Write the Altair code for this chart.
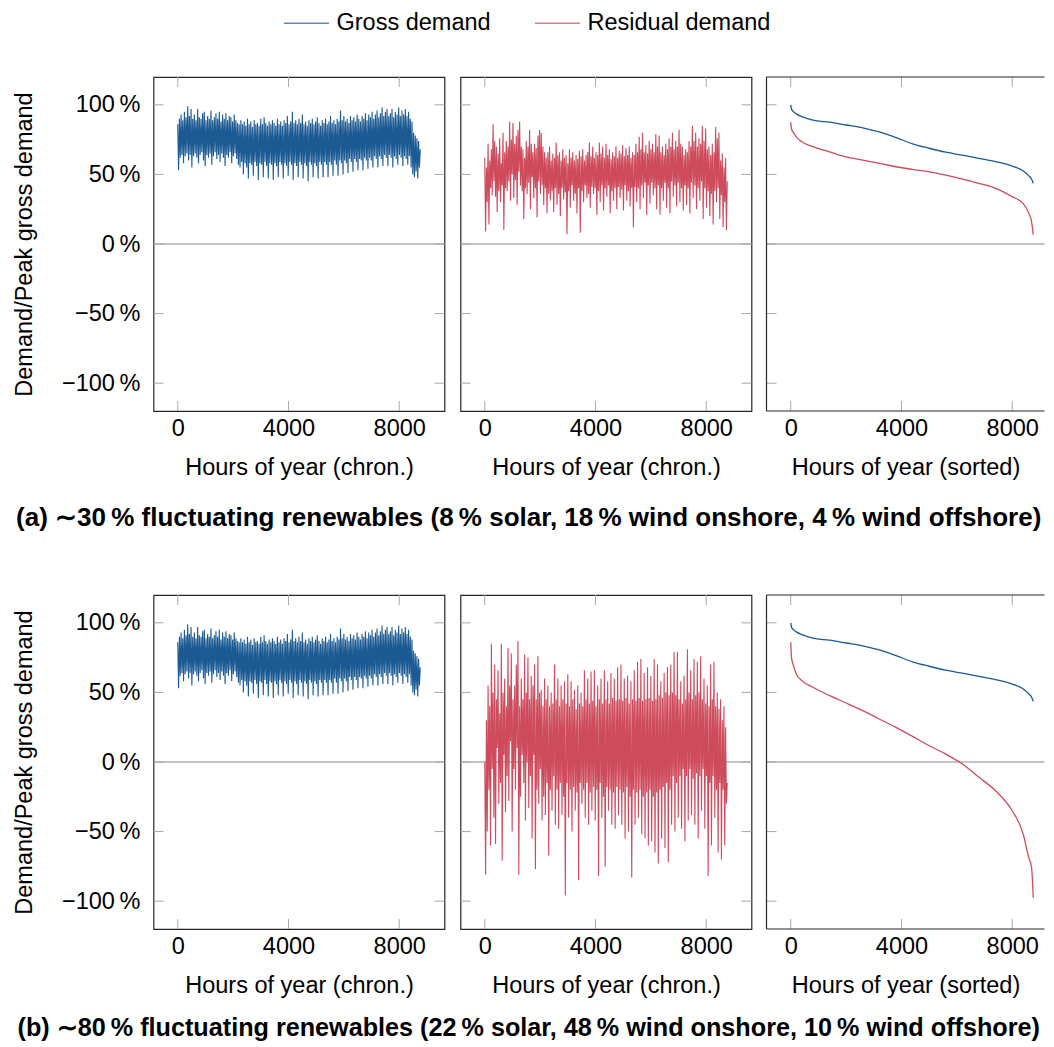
import altair as alt
import pandas as pd

# ---------------- data ----------------
# chronological series: alternating highs and lows read across the year (0 .. 8760 h)
gross_chrono = [
    0.86, 0.53, 0.90, 0.62, 0.93, 0.64, 0.89, 0.58, 0.95, 0.63, 0.91, 0.65, 0.99, 0.60, 0.92, 0.64,
    0.97, 0.55, 0.90, 0.63, 0.93, 0.65, 0.89, 0.62, 0.97, 0.58, 0.91, 0.64, 0.90, 0.66, 0.94, 0.60,
    0.95, 0.56, 0.89, 0.64, 0.92, 0.62, 0.90, 0.65, 0.96, 0.57, 0.89, 0.63, 0.91, 0.66, 0.94, 0.61,
    0.90, 0.64, 0.95, 0.59, 0.88, 0.65, 0.93, 0.62, 0.90, 0.56, 0.94, 0.64, 0.89, 0.62, 0.92, 0.66,
    0.91, 0.58, 0.88, 0.63, 0.93, 0.65, 0.89, 0.61, 0.87, 0.57, 0.86, 0.55, 0.89, 0.59, 0.86, 0.50,
    0.88, 0.58, 0.85, 0.55, 0.90, 0.47, 0.86, 0.58, 0.88, 0.57, 0.84, 0.49, 0.89, 0.59, 0.86, 0.56,
    0.87, 0.46, 0.85, 0.58, 0.90, 0.57, 0.86, 0.48, 0.91, 0.59, 0.87, 0.56, 0.85, 0.47, 0.88, 0.58,
    0.86, 0.57, 0.89, 0.46, 0.87, 0.58, 0.85, 0.56, 0.90, 0.48, 0.86, 0.59, 0.88, 0.57, 0.85, 0.47,
    0.89, 0.58, 0.87, 0.56, 0.92, 0.49, 0.86, 0.59, 0.88, 0.57, 0.95, 0.46, 0.87, 0.58, 0.89, 0.56,
    0.86, 0.48, 0.90, 0.59, 0.87, 0.57, 0.93, 0.47, 0.86, 0.58, 0.88, 0.56, 0.85, 0.45, 0.89, 0.59,
    0.87, 0.57, 0.90, 0.48, 0.86, 0.58, 0.88, 0.56, 0.91, 0.47, 0.87, 0.59, 0.85, 0.57, 0.89, 0.48,
    0.87, 0.59, 0.90, 0.57, 0.86, 0.48, 0.88, 0.59, 0.92, 0.57, 0.87, 0.49, 0.89, 0.60, 0.86, 0.57,
    0.90, 0.49, 0.88, 0.60, 0.96, 0.58, 0.89, 0.50, 0.92, 0.60, 0.88, 0.58, 0.90, 0.51, 0.87, 0.61,
    0.92, 0.59, 0.89, 0.52, 0.91, 0.61, 0.88, 0.59, 0.93, 0.53, 0.90, 0.61, 0.88, 0.60, 0.92, 0.53,
    0.90, 0.62, 0.94, 0.60, 0.89, 0.54, 0.93, 0.62, 0.91, 0.60, 0.95, 0.55, 0.90, 0.63, 0.93, 0.61,
    0.96, 0.55, 0.91, 0.63, 0.94, 0.61, 0.98, 0.56, 0.92, 0.64, 0.95, 0.62, 0.97, 0.56, 0.92, 0.64,
    0.94, 0.62, 0.97, 0.55, 0.91, 0.63, 0.95, 0.61, 0.93, 0.57, 0.98, 0.64, 0.92, 0.62, 0.96, 0.56,
    0.93, 0.63, 0.97, 0.61, 0.92, 0.57, 0.95, 0.63, 0.90, 0.55, 0.88, 0.50, 0.80, 0.48, 0.78, 0.52,
    0.76, 0.47, 0.74, 0.55,
    0.68,
]

resid30_chrono = [
    0.62, 0.09, 0.55, 0.30, 0.72, 0.14, 0.60, 0.40, 0.68, 0.35, 0.86, 0.45, 0.74, 0.34, 0.70, 0.23,
    0.65, 0.38, 0.76, 0.30, 0.58, 0.42, 0.80, 0.10, 0.66, 0.40, 0.74, 0.38, 0.70, 0.45, 0.88, 0.31,
    0.75, 0.50, 0.87, 0.33, 0.72, 0.46, 0.78, 0.28, 0.82, 0.52, 0.88, 0.42, 0.70, 0.38, 0.68, 0.18,
    0.62, 0.40, 0.74, 0.36, 0.70, 0.44, 0.82, 0.25, 0.72, 0.48, 0.66, 0.33, 0.72, 0.40, 0.69, 0.19,
    0.78, 0.45, 0.82, 0.36, 0.80, 0.42, 0.70, 0.28, 0.66, 0.40, 0.62, 0.22, 0.66, 0.36, 0.70, 0.31,
    0.60, 0.38, 0.65, 0.23, 0.62, 0.40, 0.73, 0.28, 0.64, 0.36, 0.66, 0.20, 0.60, 0.40, 0.68, 0.32,
    0.62, 0.37, 0.64, 0.07, 0.58, 0.38, 0.68, 0.26, 0.62, 0.42, 0.66, 0.31, 0.60, 0.36, 0.64, 0.22,
    0.61, 0.40, 0.67, 0.08, 0.63, 0.38, 0.68, 0.30, 0.60, 0.42, 0.64, 0.33, 0.66, 0.36, 0.73, 0.26,
    0.63, 0.41, 0.70, 0.36, 0.62, 0.40, 0.66, 0.21, 0.64, 0.38, 0.73, 0.30, 0.65, 0.42, 0.70, 0.24,
    0.62, 0.40, 0.72, 0.34, 0.64, 0.42, 0.68, 0.22, 0.61, 0.38, 0.66, 0.31, 0.63, 0.40, 0.70, 0.25,
    0.62, 0.41, 0.67, 0.33, 0.65, 0.39, 0.71, 0.24, 0.63, 0.42, 0.69, 0.31, 0.64, 0.38, 0.70, 0.27,
    0.62, 0.40, 0.66, 0.12, 0.64, 0.41, 0.72, 0.30, 0.66, 0.40, 0.77, 0.25, 0.68, 0.42, 0.80, 0.33,
    0.66, 0.44, 0.71, 0.21, 0.65, 0.42, 0.74, 0.29, 0.68, 0.44, 0.72, 0.35, 0.66, 0.40, 0.79, 0.25,
    0.70, 0.42, 0.78, 0.21, 0.66, 0.40, 0.70, 0.31, 0.64, 0.44, 0.72, 0.26, 0.68, 0.40, 0.76, 0.22,
    0.70, 0.45, 0.80, 0.34, 0.68, 0.42, 0.74, 0.27, 0.70, 0.44, 0.82, 0.30, 0.72, 0.40, 0.70, 0.24,
    0.64, 0.42, 0.68, 0.28, 0.66, 0.40, 0.74, 0.22, 0.70, 0.44, 0.85, 0.33, 0.74, 0.42, 0.80, 0.25,
    0.70, 0.40, 0.76, 0.31, 0.72, 0.45, 0.85, 0.18, 0.74, 0.40, 0.83, 0.26, 0.68, 0.38, 0.70, 0.20,
    0.64, 0.36, 0.72, 0.14, 0.66, 0.38, 0.84, 0.30, 0.76, 0.40, 0.80, 0.18, 0.60, 0.35, 0.65, 0.12,
    0.55, 0.30, 0.62, 0.10,
    0.45,
]

resid80_chrono = [
    0.00, -0.81, 0.30, -0.50, 0.55, -0.20, 0.40, -0.60, 0.85, -0.05, 0.50, -0.40, 0.70, -0.59, 0.45, 0.10,
    0.66, -0.30, 0.35, -0.15, 0.85, -0.71, 0.50, 0.05, 0.60, -0.36, 0.40, -0.10, 0.82, -0.28, 0.55, 0.15,
    0.78, -0.50, 0.45, -0.05, 0.55, -0.20, 0.70, 0.10, 0.87, -0.81, 0.40, -0.25, 0.60, 0.05, 0.45, -0.15,
    0.77, -0.42, 0.50, 0.00, 0.75, -0.33, 0.45, -0.10, 0.62, -0.55, 0.55, 0.05, 0.70, -0.77, 0.45, -0.20,
    0.76, -0.30, 0.50, -0.05, 0.52, -0.42, 0.40, -0.25, 0.60, -0.38, 0.45, -0.15, 0.55, -0.67, 0.40, -0.20,
    0.50, -0.35, 0.42, -0.10, 0.70, -0.45, 0.45, -0.20, 0.60, -0.48, 0.40, -0.15, 0.55, -0.38, 0.45, -0.25,
    0.58, -0.96, 0.42, -0.15, 0.63, -0.40, 0.40, -0.20, 0.58, -0.50, 0.45, -0.18, 0.52, -0.35, 0.38, -0.22,
    0.55, -0.85, 0.42, -0.15, 0.50, -0.30, 0.40, -0.20, 0.66, -0.40, 0.45, -0.15, 0.60, -0.45, 0.42, -0.22,
    0.65, -0.35, 0.44, -0.18, 0.66, -0.42, 0.40, -0.20, 0.55, -0.82, 0.45, -0.15, 0.60, -0.40, 0.42, -0.25,
    0.66, -0.75, 0.45, -0.18, 0.58, -0.35, 0.42, -0.20, 0.64, -0.45, 0.46, -0.22, 0.60, -0.48, 0.44, -0.18,
    0.68, -0.38, 0.45, -0.20, 0.70, -0.45, 0.44, -0.22, 0.60, -0.55, 0.46, -0.18, 0.62, -0.50, 0.42, -0.25,
    0.58, -0.83, 0.45, -0.20, 0.66, -0.45, 0.44, -0.22, 0.72, -0.40, 0.46, -0.20, 0.74, -0.52, 0.44, -0.25,
    0.64, -0.55, 0.45, -0.22, 0.68, -0.60, 0.46, -0.20, 0.62, -0.57, 0.44, -0.25, 0.74, -0.65, 0.45, -0.22,
    0.70, -0.73, 0.48, -0.20, 0.58, -0.55, 0.46, -0.18, 0.64, -0.62, 0.50, -0.15, 0.68, -0.72, 0.48, -0.20,
    0.70, -0.45, 0.50, -0.10, 0.79, -0.50, 0.48, -0.15, 0.79, -0.40, 0.45, -0.10, 0.58, -0.48, 0.42, -0.05,
    0.62, -0.57, 0.45, -0.10, 0.81, -0.42, 0.50, -0.05, 0.66, -0.38, 0.45, -0.12, 0.74, -0.45, 0.48, -0.08,
    0.72, -0.55, 0.50, -0.10, 0.76, -0.35, 0.45, -0.05, 0.60, -0.48, 0.42, -0.10, 0.55, -0.82, 0.40, -0.15,
    0.70, -0.60, 0.45, -0.10, 0.72, -0.40, 0.40, -0.20, 0.50, -0.65, 0.38, -0.15, 0.45, -0.70, 0.30, -0.20,
    0.40, -0.60, 0.25, -0.30,
    -0.15,
]

sorted_hours = [0, 25, 100, 200, 400, 800, 1400, 2000, 2600, 3200, 3800,
                4400, 5000, 5600, 6200, 6800, 7400, 8000, 8400, 8600, 8700, 8760]
gross_sorted = [1.00, 0.97, 0.95, 0.935, 0.915, 0.89, 0.875, 0.855, 0.835, 0.805, 0.765,
                0.72, 0.688, 0.66, 0.638, 0.615, 0.592, 0.56, 0.525, 0.49, 0.465, 0.436]
resid30_sorted = [0.876, 0.83, 0.80, 0.77, 0.735, 0.70, 0.662, 0.626, 0.603, 0.58, 0.555,
                  0.536, 0.519, 0.495, 0.467, 0.436, 0.40, 0.34, 0.29, 0.22, 0.16, 0.067]
resid80_sorted = [0.861, 0.753, 0.693, 0.633, 0.585, 0.537, 0.477, 0.424, 0.369, 0.309, 0.249,
                  0.184, 0.117, 0.057, -0.015, -0.11, -0.207, -0.35, -0.52, -0.69, -0.76, -0.975]

hours_in_year = 8760
x_ticks = [0, 4000, 8000]
y_ticks = [-1, -0.5, 0, 0.5, 1]
y_tick_labels = ["\u2212100\u2009%", "\u221250\u2009%", "0\u2009%", "50\u2009%", "100\u2009%"]
series_names = ["Gross demand", "Residual demand"]
series_colors = ["#1b5a93", "#cd4b5b"]
x_titles = ["Hours of year (chron.)", "Hours of year (chron.)", "Hours of year (sorted)"]
y_title = "Demand/Peak gross demand"
captions = [
    "(a) \u223c30\u2009% fluctuating renewables (8\u2009% solar, 18\u2009% wind onshore, 4\u2009% wind offshore)",
    "(b) \u223c80\u2009% fluctuating renewables (22\u2009% solar, 48\u2009% wind onshore, 10\u2009% wind offshore)",
]

# ---------------- styling ----------------
FONT = "Liberation Sans"
FS = 23.5
W, H = 291, 334
W3 = 278              # last panel is cropped by the page edge, as in the reference
TICK = 10
x_domain = [-876, 9636]
x_domain3 = [-876, -876 + (x_domain[1] - x_domain[0]) * W3 / W]
y_domain = [-1.2, 1.2]
FRAME = "#262626"

yscale = alt.Scale(domain=y_domain, nice=False, zero=False)
cscale = alt.Scale(domain=series_names, range=series_colors)

label_expr = " : ".join(
    f"datum.value == {v} ? '{l}'" for v, l in zip(y_ticks, y_tick_labels)
) + " : ''"


def chrono_df(values, name):
    step = hours_in_year / (len(values) - 1)
    return pd.DataFrame({
        "hour": [i * step for i in range(len(values))],
        "value": values,
        "series": name,
    })


def sorted_df(gross, resid):
    return pd.concat([
        pd.DataFrame({"hour": sorted_hours, "value": gross, "series": series_names[0]}),
        pd.DataFrame({"hour": sorted_hours, "value": resid, "series": series_names[1]}),
    ])


legend = alt.Legend(
    title=None, orient="none", legendX=141, legendY=-66, direction="horizontal",
    symbolType="M-2,0L2,0", symbolSize=506, symbolStrokeWidth=1.3,
    labelFontSize=FS, labelFont=FONT, labelColor="black", labelOffset=18,
    labelLimit=500, columnPadding=40, padding=0, symbolOpacity=0.7,
)


def make_xaxis(title):
    return alt.Axis(values=x_ticks, format="d", title=title, ticks=False, tickSize=0,
                    domain=False, grid=False, labelPadding=5, titlePadding=16,
                    labelFontSize=FS, titleFontSize=FS, titleFontWeight="normal")


def make_yaxis(show):
    if not show:
        return None
    return alt.Axis(values=y_ticks, labelExpr=label_expr, title=y_title, ticks=False,
                    tickSize=0, domain=False, grid=False, labelPadding=13.5, titlePadding=24.5,
                    labelFontSize=FS, titleFontSize=FS, titleFontWeight="normal")


def panel(df, xtitle, show_y, interp, width=W, xdom=x_domain, cropped=False):
    xscale = alt.Scale(domain=xdom, nice=False, zero=False)

    def X(f="hour"):
        return alt.X(f"{f}:Q", scale=xscale, axis=make_xaxis(xtitle))

    def Y(f="value"):
        return alt.Y(f"{f}:Q", scale=yscale, axis=make_yaxis(show_y))

    ytk = pd.DataFrame({"value": y_ticks})
    xtk = pd.DataFrame({"hour": x_ticks})
    right_tick = TICK if not cropped else max(TICK - (W - width), 0)
    layers = [
        alt.Chart(pd.DataFrame({"value": [0]})).mark_rule(color="#8a8a8a", strokeWidth=1)
        .encode(y=Y()),
        alt.Chart(ytk).mark_rule(color="#a8a8a8", strokeWidth=1)
        .encode(y=Y(), x=alt.value(0), x2=alt.value(TICK)),
        alt.Chart(xtk).mark_rule(color="#a8a8a8", strokeWidth=1)
        .encode(x=X(), y=alt.value(0), y2=alt.value(TICK)),
        alt.Chart(xtk).mark_rule(color="#a8a8a8", strokeWidth=1)
        .encode(x=X(), y=alt.value(H - TICK), y2=alt.value(H)),
    ]
    if right_tick > 0:
        layers.append(
            alt.Chart(ytk).mark_rule(color="#a8a8a8", strokeWidth=1)
            .encode(y=Y(), x=alt.value(width - right_tick), x2=alt.value(width)))
    if cropped:
        # frame without the right edge (it lies beyond the page edge in the reference)
        one = pd.DataFrame({"value": [0]})
        layers += [
            alt.Chart(one).mark_rule(color=FRAME, strokeWidth=1.2)
            .encode(x=alt.value(0), y=alt.value(0), y2=alt.value(H)),
            alt.Chart(one).mark_rule(color=FRAME, strokeWidth=1.2)
            .encode(x=alt.value(0), x2=alt.value(width), y=alt.value(0)),
            alt.Chart(one).mark_rule(color=FRAME, strokeWidth=1.2)
            .encode(x=alt.value(0), x2=alt.value(width), y=alt.value(H)),
        ]
    layers.append(
        alt.Chart(df).mark_line(strokeWidth=1.3 if interp == "monotone" else 1.1,
                                interpolate=interp)
        .encode(x=X(), y=Y(), color=alt.Color("series:N", scale=cscale, legend=legend)))
    ch = alt.layer(*layers).properties(width=width, height=H)
    if cropped:
        ch = ch.properties(view=alt.ViewBackground(stroke=None))
    return ch


rows = []
cap_sizes = [26, 25.2]
cap_offsets = [25, 18]
setups = [(resid30_chrono, resid30_sorted), (resid80_chrono, resid80_sorted)]
for r, (resid_c, resid_s) in enumerate(setups):
    p1 = panel(chrono_df(gross_chrono, series_names[0]), x_titles[0], True, "linear")
    p2 = panel(chrono_df(resid_c, series_names[1]), x_titles[1], False, "linear")
    p3 = panel(sorted_df(gross_sorted, resid_s), x_titles[2], False, "monotone",
               width=W3, xdom=x_domain3, cropped=True)
    row = alt.hconcat(p1, p2, p3, spacing=12).properties(
        title=alt.TitleParams(text=captions[r], orient="bottom", anchor="middle",
                              fontSize=cap_sizes[r], fontWeight="bold", font=FONT,
                              color="black", offset=cap_offsets[r]))
    rows.append(row)

chart = alt.vconcat(*rows, spacing=62).properties(
    padding={"left": 3.5, "top": 3, "right": 0, "bottom": 0}
).configure(font=FONT).configure_view(
    stroke=FRAME, strokeWidth=1.2
).configure_axis(labelColor="black", titleColor="black", labelFont=FONT, titleFont=FONT)

chart.save("out.html", embed_options={"renderer": "svg", "actions": False})
